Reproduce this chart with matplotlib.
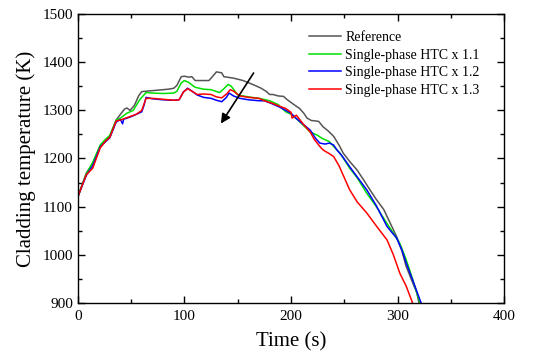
import matplotlib
matplotlib.use("Agg")
import matplotlib.pyplot as plt
from matplotlib.ticker import MultipleLocator

plt.rcParams['font.family'] = ['Liberation Serif', 'DejaVu Serif']

t_ref = [0, 4, 8, 14, 21, 26, 30, 36, 40, 44, 46, 49, 53, 57, 60, 65, 75, 85, 90, 93, 97, 100, 104, 107, 110, 118, 123, 127, 130, 135, 137, 146, 155, 165, 172, 177, 180, 183, 188, 193, 196, 199, 204, 208, 212, 215, 219, 223, 226, 230, 235, 240, 245, 249, 255, 262, 268, 274, 280, 287, 293, 299, 304, 308, 313, 318, 320]
T_ref = [1120, 1145, 1170, 1190, 1225, 1238, 1246, 1280, 1292, 1303, 1305, 1300, 1310, 1330, 1339, 1340, 1342, 1344, 1346, 1352, 1370, 1371, 1369, 1370, 1362, 1362, 1362, 1372, 1380, 1378, 1370, 1367, 1362, 1353, 1346, 1339, 1333, 1333, 1330, 1329, 1323, 1318, 1310, 1304, 1294, 1284, 1279, 1278, 1277, 1266, 1257, 1246, 1228, 1211, 1194, 1176, 1156, 1135, 1115, 1094, 1066, 1038, 1008, 976, 948, 921, 900]

t_g = [0, 4, 8, 14, 21, 26, 30, 36, 40, 46, 52, 58, 64, 70, 80, 90, 93, 97, 100, 104, 110, 118, 125, 133, 137, 141, 144, 150, 160, 170, 180, 188, 195, 200, 205, 212, 218, 221, 225, 229, 233, 236, 240, 246, 255, 262, 271, 280, 290, 296, 302, 308, 314, 318, 321]
T_g = [1120, 1145, 1168, 1192, 1228, 1240, 1248, 1280, 1284, 1294, 1300, 1322, 1337, 1336, 1335, 1336, 1340, 1357, 1362, 1358, 1348, 1344, 1343, 1337, 1345, 1354, 1350, 1332, 1328, 1325, 1320, 1312, 1297, 1292, 1283, 1268, 1255, 1252, 1248, 1242, 1238, 1235, 1225, 1211, 1180, 1160, 1128, 1100, 1065, 1045, 1024, 990, 950, 921, 900]

t_b = [0, 4, 8, 14, 21, 26, 30, 36, 40, 42, 43, 45, 50, 55, 60, 62, 64, 70, 80, 90, 95, 99, 103, 107, 112, 118, 125, 130, 135, 139, 142, 146, 152, 160, 170, 175, 182, 190, 195, 200, 205, 212, 218, 223, 227, 232, 236, 240, 243, 248, 255, 262, 271, 280, 290, 294, 299, 304, 308, 314, 322]
T_b = [1120, 1143, 1165, 1185, 1224, 1235, 1243, 1276, 1281, 1272, 1282, 1283, 1287, 1292, 1297, 1310, 1327, 1324, 1322, 1321, 1322, 1338, 1346, 1340, 1332, 1327, 1325, 1321, 1318, 1326, 1336, 1330, 1325, 1322, 1320, 1320, 1314, 1306, 1300, 1294, 1283, 1270, 1259, 1242, 1232, 1230, 1232, 1228, 1218, 1205, 1183, 1162, 1135, 1102, 1059, 1048, 1035, 1010, 983, 948, 900]

t_r = [0, 4, 8, 14, 21, 26, 30, 36, 40, 45, 50, 55, 60, 64, 70, 80, 90, 95, 99, 103, 107, 112, 118, 125, 130, 135, 140, 143, 146, 152, 160, 170, 175, 182, 190, 195, 200, 201, 205, 212, 218, 222, 226, 229, 232, 236, 240, 245, 250, 255, 262, 271, 280, 290, 296, 302, 308, 314]
T_r = [1120, 1144, 1166, 1180, 1222, 1236, 1244, 1278, 1280, 1284, 1288, 1292, 1300, 1325, 1325, 1323, 1321, 1322, 1338, 1345, 1340, 1333, 1334, 1333, 1328, 1326, 1335, 1343, 1340, 1330, 1327, 1325, 1320, 1315, 1308, 1304, 1296, 1284, 1290, 1270, 1255, 1239, 1228, 1220, 1215, 1210, 1204, 1185, 1160, 1135, 1110, 1087, 1060, 1031, 1000, 962, 935, 900]

labels = ["Reference", "Single-phase HTC x 1.1", "Single-phase HTC x 1.2", "Single-phase HTC x 1.3"]
colors = ["#555555", "#00e000", "#0000ff", "#ff0000"]

fig = plt.figure(figsize=(5.33, 3.53), dpi=100)
ax = fig.add_axes([0.146, 0.142, 0.800, 0.818])

for t, T, lab, c in zip([t_ref, t_g, t_b, t_r], [T_ref, T_g, T_b, T_r], labels, colors):
    ax.plot(t, T, color=c, lw=1.1, label=lab)

ax.annotate("", xy=(132.8, 1267.7), xytext=(166.3, 1382.5),
            arrowprops=dict(arrowstyle="-|>", color="black", lw=1.2, mutation_scale=14))

ax.set_xlim(0, 400)
ax.set_ylim(900, 1500)
ax.xaxis.set_major_locator(MultipleLocator(100))
ax.xaxis.set_minor_locator(MultipleLocator(50))
ax.yaxis.set_major_locator(MultipleLocator(100))
ax.yaxis.set_minor_locator(MultipleLocator(50))
ax.tick_params(which='both', direction='in', top=True, right=True, labelsize=11)
ax.tick_params(which='major', length=5, width=1)
ax.tick_params(which='minor', length=3, width=1)
ax.tick_params(axis='x', pad=5)
for s in ax.spines.values():
    s.set_linewidth(1.0)

ax.set_xlabel("Time (s)", fontsize=15, labelpad=7)
ax.set_ylabel("Cladding temperature (K)", fontsize=15, labelpad=5)

ax.legend(loc='upper right', frameon=False, fontsize=10, handlelength=2.3,
          handletextpad=0.3, labelspacing=0.33, bbox_to_anchor=(0.972, 0.985))

fig.savefig("out.png", dpi=100)
